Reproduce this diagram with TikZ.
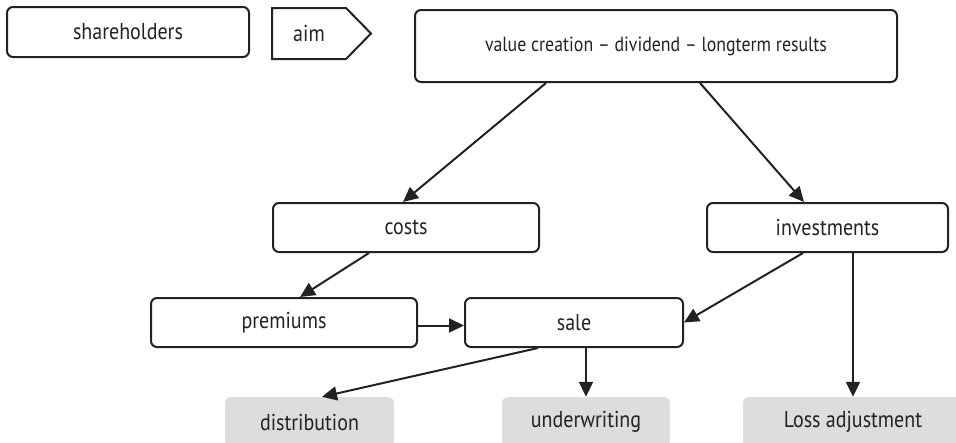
\documentclass[tikz,border=0pt]{standalone}
\usepackage{fontspec}
\setmainfont{PT Sans}[FakeStretch=0.87]
\usetikzlibrary{arrows.meta}
\definecolor{ink}{HTML}{222222}
\definecolor{boxgrey}{HTML}{DCDDDF}
\tikzset{
	box/.style={draw=ink, line width=2pt, rounded corners=6pt, inner sep=0pt, minimum height=49pt, text=ink, font=\fontsize{23}{25}\selectfont},
	greybox/.style={fill=boxgrey, rounded corners=6pt, inner sep=0pt, minimum height=50pt, text=ink, font=\fontsize{23}{25}\selectfont},
	arr/.style={draw=ink, line width=2pt, -{Triangle[length=15pt,width=14pt]}}
}

\begin{document}
\begin{tikzpicture}[x=1pt, y=-1pt]
		%%%%% START %%%%%
		\useasboundingbox (0, 0) rectangle (956, 442);
		
		\node[box, minimum width=242pt, minimum height=50pt] (share) at (128, 32) {shareholders};
		\node[box, draw=none, minimum width=72pt] (aim) at (309, 33.5) {aim};
		\draw[draw=ink, line width=2pt] (aim.north west) -- (aim.north east) -- ([xshift=25pt]aim.east) -- (aim.south east) -- (aim.south west) -- cycle;
		
		\node[box, minimum width=482pt, minimum height=72pt, font=\fontsize{20.5}{22}\selectfont] (value) at (656, 46) {value creation -- dividend -- longterm results};
		
		\node[box, minimum width=266pt] (costs) at (406, 227.5) {costs};
		\node[box, minimum width=241pt] (invest) at (827.5, 227.5) {investments};
		
		\node[box, minimum width=266pt] (prem) at (284, 322.5) {premiums};
		\node[box, minimum width=218pt] (sale) at (574, 322.5) {sale};
		
		\node[greybox, minimum width=169pt] (distr) at (309.5, 422) {distribution};
		\node[greybox, minimum width=168pt] (underw) at (586, 422) {underwriting};
		\node[greybox, minimum width=220pt] (loss) at (853, 422) {Loss adjustment};
		
		\draw[arr] ([xshift=-110pt]value.south) -- ([xshift=-3pt]costs.north);
		\draw[arr] ([xshift=44pt]value.south) -- ([xshift=-23.5pt]invest.north);
		
		\draw[arr] ([xshift=-37pt]costs.south) -- ([xshift=16pt]prem.north);
		\draw[arr] ([xshift=-24.5pt]invest.south) -- (sale.east);
		\draw[arr] (loss.north |- invest.south) -- (loss.north);
		
		\draw[arr] ([yshift=-3pt]prem.east) -- ([yshift=-3pt]sale.west);
		\draw[arr] ([xshift=-36pt]sale.south) -- ([xshift=12.5pt]distr.north);
		\draw[arr] (underw.north |- sale.south) -- (underw.north);
		
		%%%%% END %%%%%
\end{tikzpicture}
\end{document}
